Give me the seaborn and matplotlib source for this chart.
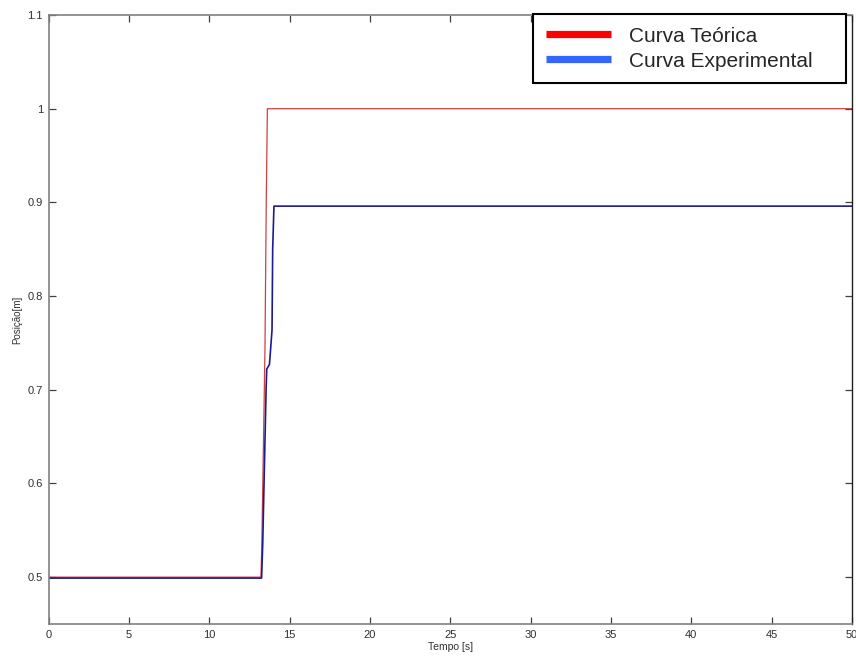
import matplotlib
matplotlib.use("Agg")
import matplotlib.pyplot as plt
from matplotlib.lines import Line2D
import pandas as pd
import seaborn as sns

# Theoretical step response (time in s, position in m)
t_teorica = [0.0, 13.22, 13.27, 13.43, 13.47, 13.55, 13.62, 50.0]
y_teorica = [0.500, 0.500, 0.530, 0.700, 0.743, 0.900, 1.000, 1.000]

# Measured step response
t_experimental = [0.0, 13.26, 13.33, 13.54, 13.58, 13.75, 13.91, 13.95, 14.03, 50.0]
y_experimental = [0.499, 0.499, 0.535, 0.700, 0.722, 0.727, 0.764, 0.850, 0.896, 0.896]

x_ticks = [0, 5, 10, 15, 20, 25, 30, 35, 40, 45, 50]
y_ticks = [0.5, 0.6, 0.7, 0.8, 0.9, 1.0, 1.1]
y_tick_labels = ["0.5", "0.6", "0.7", "0.8", "0.9", "1", "1.1"]

sns.set_theme(style="white")
plt.rcParams["font.family"] = ["Liberation Sans", "DejaVu Sans"]

df_t = pd.DataFrame({"Tempo": t_teorica, "Posicao": y_teorica})
df_e = pd.DataFrame({"Tempo": t_experimental, "Posicao": y_experimental})

fig = plt.figure(figsize=(8.56, 6.57), dpi=100)
ax = fig.add_axes([48.5 / 856, 1 - 624 / 657, 803.5 / 856, 609 / 657])

sns.lineplot(data=df_t, x="Tempo", y="Posicao", ax=ax, color="#d04040",
             linewidth=0.9, estimator=None, sort=False)
sns.lineplot(data=df_e, x="Tempo", y="Posicao", ax=ax, color="#1c1c8c",
             linewidth=1.2, estimator=None, sort=False)

ax.set_xlim(0, 50)
ax.set_ylim(0.45, 1.1)
ax.set_xticks(x_ticks)
ax.set_xticklabels([str(v) for v in x_ticks])
ax.set_yticks(y_ticks)
ax.set_yticklabels(y_tick_labels)

ax.tick_params(direction="in", length=5.2, width=0.9, colors="#404040",
               labelsize=8, top=True, right=True, bottom=True, left=True,
               pad=4)
ax.tick_params(axis="x", labelcolor="#303030")
ax.tick_params(axis="y", labelcolor="#303030")

for side in ["left", "bottom", "top"]:
    ax.spines[side].set_color("#808080")
    ax.spines[side].set_linewidth(1.2)
ax.spines["right"].set_color("#202020")
ax.spines["right"].set_linewidth(1.0)

ax.set_xlabel("Tempo [s]", fontsize=7.5, color="#303030", labelpad=2)
ax.set_ylabel("Posição[m]", fontsize=7, color="#303030", labelpad=4)

handles = [
    Line2D([0], [0], color="#ff0000", linewidth=5.2, solid_capstyle="butt"),
    Line2D([0], [0], color="#3366ff", linewidth=5.2, solid_capstyle="butt"),
]
leg = ax.legend(handles, ["Curva Teórica", "Curva Experimental"],
                loc="upper left",
                bbox_to_anchor=(0.603, 0.80, 0.3895, 0.2016),
                mode="expand", borderaxespad=0, fontsize=15, fancybox=False,
                framealpha=1, edgecolor="black", handlelength=3.15,
                handletextpad=0.87, labelspacing=0.3, borderpad=0.6)
leg.get_frame().set_linewidth(1.5)
leg.set_zorder(10)

fig.savefig("out.png", dpi=100, facecolor="white")
